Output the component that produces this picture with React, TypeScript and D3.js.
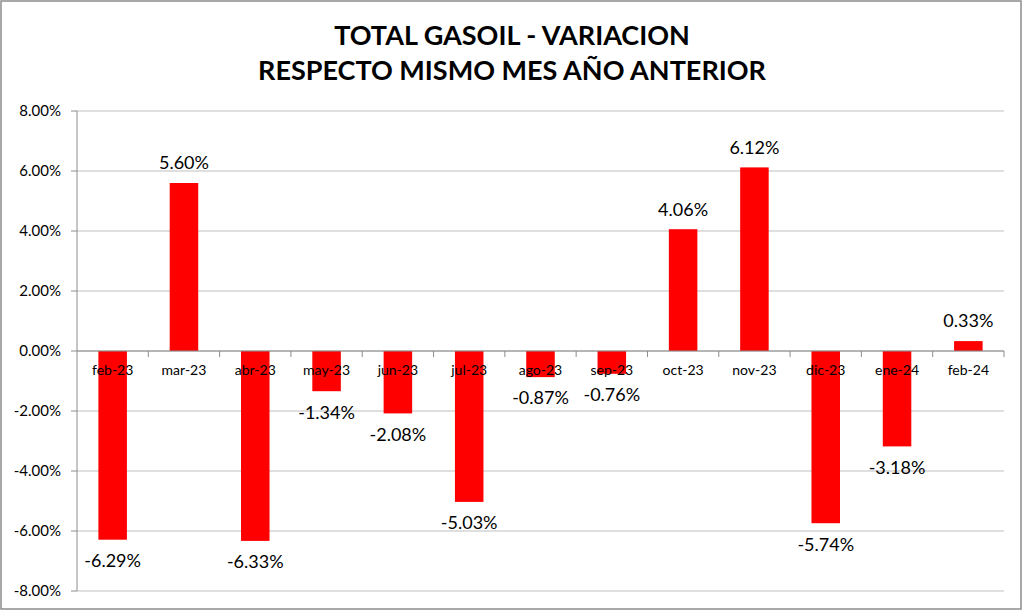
import React from "react";
import * as d3 from "d3";

const categories = ["feb-23","mar-23","abr-23","may-23","jun-23","jul-23","ago-23","sep-23","oct-23","nov-23","dic-23","ene-24","feb-24"];
const values = [-6.29, 5.60, -6.33, -1.34, -2.08, -5.03, -0.87, -0.76, 4.06, 6.12, -5.74, -3.18, 0.33];
const yTicks = [-8, -6, -4, -2, 0, 2, 4, 6, 8];
const titleLines = ["TOTAL GASOIL - VARIACION", "RESPECTO MISMO MES AÑO ANTERIOR"];

const W = 1024, H = 612;
const plot = { left: 77, right: 1004, top: 111, bottom: 591 };
const FONT = "Lato, 'Open Sans', sans-serif";

export default function App() {
  const x = d3.scaleBand<string>().domain(categories).range([plot.left, plot.right]).paddingInner(0.6).paddingOuter(0.3);
  const xb = d3.scaleBand<string>().domain(categories).range([plot.left, plot.right]);
  const y = d3.scaleLinear().domain([-8, 8]).range([plot.bottom, plot.top]);
  const y0 = y(0);
  const fmt = (v: number) => v.toFixed(2) + "%";
  return (
    <svg width={W} height={H} style={{ position: "absolute", left: 0, top: 0 }} fontFamily={FONT}>
      <rect x={0} y={0} width={W} height={H} fill="#fff" />
      <rect x={1} y={1} width={1020} height={608} fill="#fff" stroke="#8c8c8c" strokeWidth={1.5} />
      {titleLines.map((t, i) => (
        <text key={t} x={512} y={45 + i * 35} textAnchor="middle" fontWeight="bold" fontSize={27} fill="#000">{t}</text>
      ))}
      {yTicks.map(t => (
        <g key={t}>
          <line x1={plot.left} x2={plot.right} y1={y(t)} y2={y(t)} stroke="#bfbfbf" strokeWidth={1} />
          <line x1={plot.left - 6} x2={plot.left} y1={y(t)} y2={y(t)} stroke="#8c8c8c" />
          <text x={61} y={y(t)} dy="0.35em" textAnchor="end" fontSize={15} fill="#000">{fmt(t)}</text>
        </g>
      ))}
      <line x1={plot.left} x2={plot.left} y1={plot.top} y2={plot.bottom} stroke="#8c8c8c" />
      {values.map((v, i) => {
        const c = categories[i];
        const top = Math.min(y(v), y0), h = Math.abs(y(v) - y0);
        const cx = (x(c) as number) + x.bandwidth() / 2;
        return (
          <g key={c}>
            <rect x={x(c)} y={top} width={x.bandwidth()} height={h} fill="#ff0000" />
            <text x={cx} y={v >= 0 ? y(v) - 20 : y(v) + 21} dy="0.35em" textAnchor="middle" fontSize={18} fill="#000">{fmt(v)}</text>
          </g>
        );
      })}
      <line x1={plot.left} x2={plot.right} y1={y0} y2={y0} stroke="#8c8c8c" />
      {categories.map(c => (
        <line key={c} x1={(xb(c) as number) + xb.bandwidth()} x2={(xb(c) as number) + xb.bandwidth()} y1={y0} y2={y0 + 6} stroke="#8c8c8c" />
      ))}
      {categories.map(c => (
        <text key={c} x={(xb(c) as number) + xb.bandwidth() / 2} y={y0 + 19} dy="0.35em" textAnchor="middle" fontSize={14} fill="#000">{c}</text>
      ))}
    </svg>
  );
}
